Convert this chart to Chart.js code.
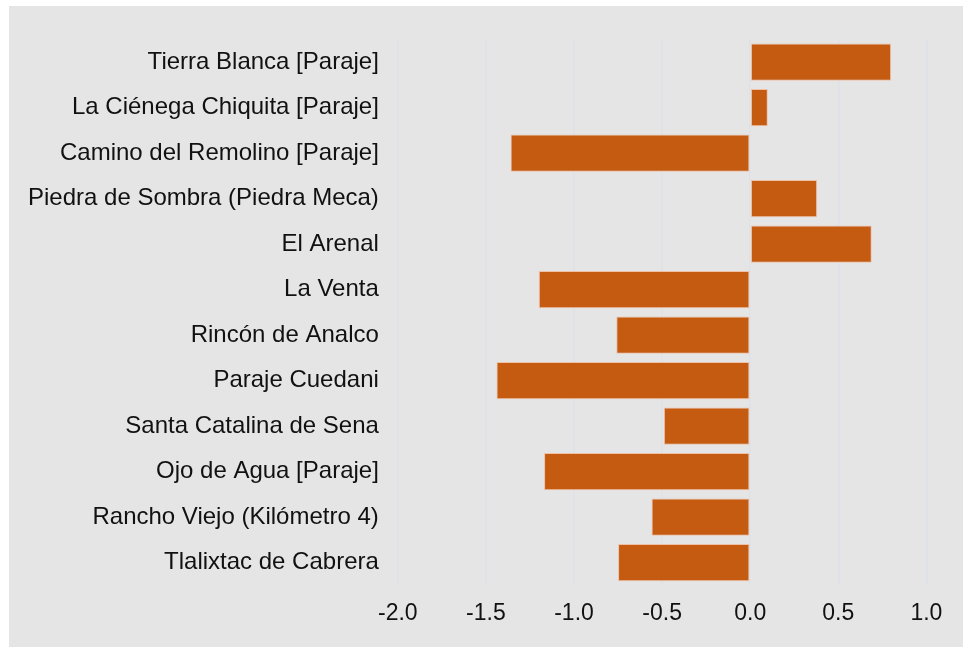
<!DOCTYPE html>
<html>
<head>
<meta charset="utf-8">
<script src="https://cdn.jsdelivr.net/npm/chart.js@4"></script>
<style>
    body { margin: 0; background: #ffffff; }
    #wrap { position: absolute; left: 9px; top: 6px; width: 954px; height: 641px; background: #e5e5e5; }
</style>
</head>
<body>
<div id="wrap"><canvas id="chart"></canvas></div>
<script>
var localidades = [
    "Tierra Blanca [Paraje]",
    "La Ciénega Chiquita [Paraje]",
    "Camino del Remolino [Paraje]",
    "Piedra de Sombra (Piedra Meca)",
    "El Arenal",
    "La Venta",
    "Rincón de Analco",
    "Paraje Cuedani",
    "Santa Catalina de Sena",
    "Ojo de Agua [Paraje]",
    "Rancho Viejo (Kilómetro 4)",
    "Tlalixtac de Cabrera"
];
var valores = [0.80, 0.10, -1.36, 0.38, 0.69, -1.20, -0.76, -1.44, -0.49, -1.17, -0.56, -0.75];
var ejeMin = -2.0;
var ejeMax = 1.1;

var lineChart = new Chart(document.getElementById("chart"), {
    type: 'bar',
    data: {
        labels: localidades,
        datasets: [{
            data: valores,
            backgroundColor: '#c55a11',
            borderColor: 'rgba(240, 190, 160, 0.9)',
            borderWidth: 1,
            borderSkipped: false,
            barPercentage: 1,
            categoryPercentage: 0.82
        }]
    },
    options: {
        indexAxis: 'y',
        responsive: true,
        maintainAspectRatio: false,
        animation: false,
        layout: { padding: { top: 31, right: 19, bottom: 6, left: 0 } },
        plugins: {
            legend: { display: false },
            tooltip: { enabled: false }
        },
        scales: {
            x: {
                min: ejeMin,
                max: ejeMax,
                grid: { color: '#dde1e9', lineWidth: 1.5, drawTicks: false },
                border: { display: false },
                ticks: {
                    stepSize: 0.5,
                    includeBounds: false,
                    padding: 14,
                    color: '#111111',
                    font: { family: '"Liberation Sans", Arial, sans-serif', size: 23 },
                    callback: function (v) { return Number(v).toFixed(1); }
                }
            },
            y: {
                grid: { display: false, drawTicks: false },
                border: { display: false },
                ticks: {
                    padding: 19,
                    color: '#111111',
                    font: { family: '"Liberation Sans", Arial, sans-serif', size: 24 }
                }
            }
        }
    }
});
</script>
</body>
</html>
